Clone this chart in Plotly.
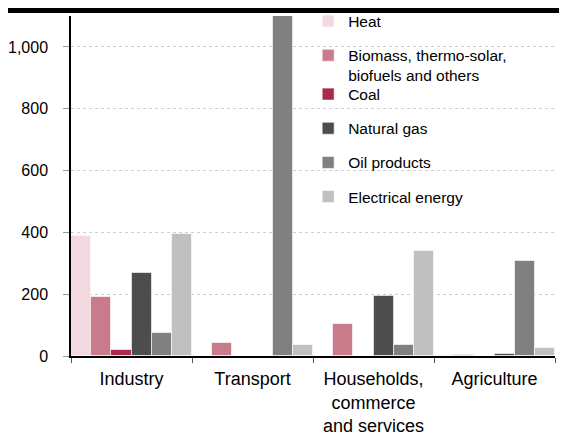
import plotly.graph_objects as go

categories = ["Industry", "Transport", "Households,<br>commerce<br>and services", "Agriculture"]
series_names = ["Heat", "Biomass, thermo-solar,<br>biofuels and others", "Coal",
                "Natural gas", "Oil products", "Electrical energy"]
heat = [388, 0, 0, 2]
biomass = [190, 41, 103, 3]
coal = [19, 0, 0, 0]
natural_gas = [268, 0, 194, 5]
oil_products = [75, 1160, 36, 307]
electrical = [396, 36, 341, 27]
y_ticks = [0, 200, 400, 600, 800, 1000]

values = [heat, biomass, coal, natural_gas, oil_products, electrical]
colors = ["#F2D8DF", "#C97B8C", "#AA2A4C", "#4D4D4D", "#808080", "#C0C0C0"]
legends = ["legend", "legend", "legend2", "legend2", "legend2", "legend2"]

fig = go.Figure()
for i, (name, vals) in enumerate(zip(series_names, values)):
    fig.add_trace(go.Bar(
        x=categories, y=vals, name=name,
        marker=dict(color=colors[i], line=dict(color="rgba(255,255,255,0.6)", width=1)),
        legend=legends[i], legendgroup=f"g{i}",
    ))

font = "Liberation Sans, Arial, sans-serif"
fig.update_layout(
    width=559, height=426,
    margin=dict(l=63, r=12, t=8, b=78, autoexpand=False),
    paper_bgcolor="white", plot_bgcolor="white",
    barmode="group", bargap=0.0, bargroupgap=0.0,
    font=dict(family=font, color="black"),
    showlegend=True,
    legend=dict(x=0.49, y=1.0338, xanchor="left", yanchor="top",
                bgcolor="rgba(0,0,0,0)", font=dict(size=15.5, family=font),
                tracegroupgap=11, itemwidth=30, traceorder="grouped", valign="top"),
    legend2=dict(x=0.49, y=0.819, xanchor="left", yanchor="top",
                 bgcolor="rgba(0,0,0,0)", font=dict(size=15.5, family=font),
                 tracegroupgap=11, itemwidth=30, traceorder="grouped", valign="top"),
    xaxis=dict(showline=True, linecolor="black", linewidth=1.5, automargin=False,
               ticks="outside", tickson="boundaries", ticklen=5, tickcolor="#555",
               tickfont=dict(size=18, family=font), ticklabelstandoff=6, showgrid=False),
    yaxis=dict(range=[0, 1100], tickvals=y_ticks, tickformat=",", automargin=False,
               showline=True, linecolor="black", linewidth=1.5,
               ticks="outside", ticklen=6, tickcolor="#999",
               tickfont=dict(size=16, family=font), ticklabelstandoff=12,
               showgrid=True, gridcolor="#CFCFCF", griddash="dot", gridwidth=1,
               zeroline=False),
    shapes=[dict(type="rect", xref="paper", yref="paper",
                 x0=-0.2, x1=1.1, y0=1.0088, y1=1.06,
                 fillcolor="black", line=dict(width=0), layer="above")],
)

fig.write_html("out.html")
